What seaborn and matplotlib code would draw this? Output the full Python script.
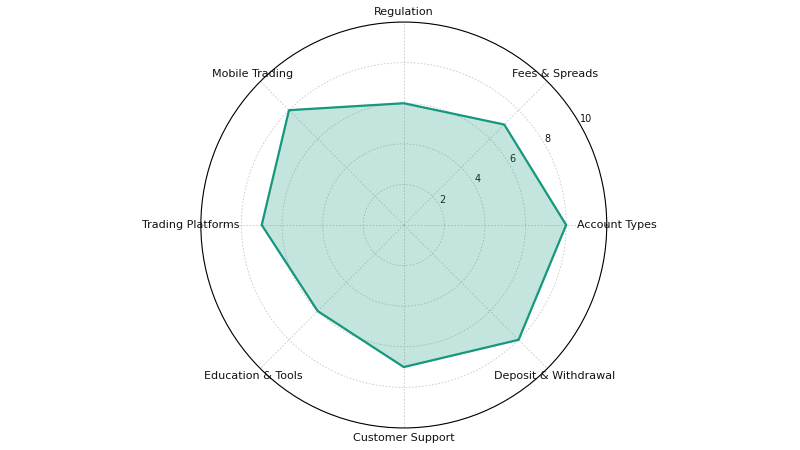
import numpy as np
import matplotlib
matplotlib.use("Agg")
import matplotlib.pyplot as plt
import seaborn as sns

categories = ["Account Types", "Fees & Spreads", "Regulation", "Mobile Trading",
              "Trading Platforms", "Education & Tools", "Customer Support",
              "Deposit & Withdrawal"]
scores = [8.0, 7.0, 6.0, 8.0, 7.0, 6.0, 7.0, 8.0]
r_ticks = [2, 4, 6, 8, 10]

sns.set_style("white")
plt.rcParams['font.family'] = ['DejaVu Sans']

color = "#16987e"

fig = plt.figure(figsize=(8, 4.5), dpi=100)
ax = fig.add_axes([0.251, 0.049, 0.5075, 0.902], projection="polar")

angles = np.linspace(0, 2 * np.pi, len(categories), endpoint=False)
theta = np.append(angles, angles[0])
vals = np.append(scores, scores[0])

ax.plot(theta, vals, color=color, linewidth=1.6)
ax.fill(theta, vals, color=color, alpha=0.25)

ax.set_ylim(0, 10)
ax.set_yticks(r_ticks)
ax.set_yticklabels([str(t) for t in r_ticks], fontsize=7, color="#111111")
ax.set_rlabel_position(30)
ax.set_xticks(angles)
ax.set_xticklabels(categories, fontsize=8, color="#111111")
ax.tick_params(axis="x", pad=-3)
ax.grid(True, color="#c8c8c8", linestyle=(0, (2, 2)), linewidth=0.6)
ax.spines["polar"].set_color("black")
ax.spines["polar"].set_linewidth(0.8)

fig.savefig("out.png", dpi=100)
